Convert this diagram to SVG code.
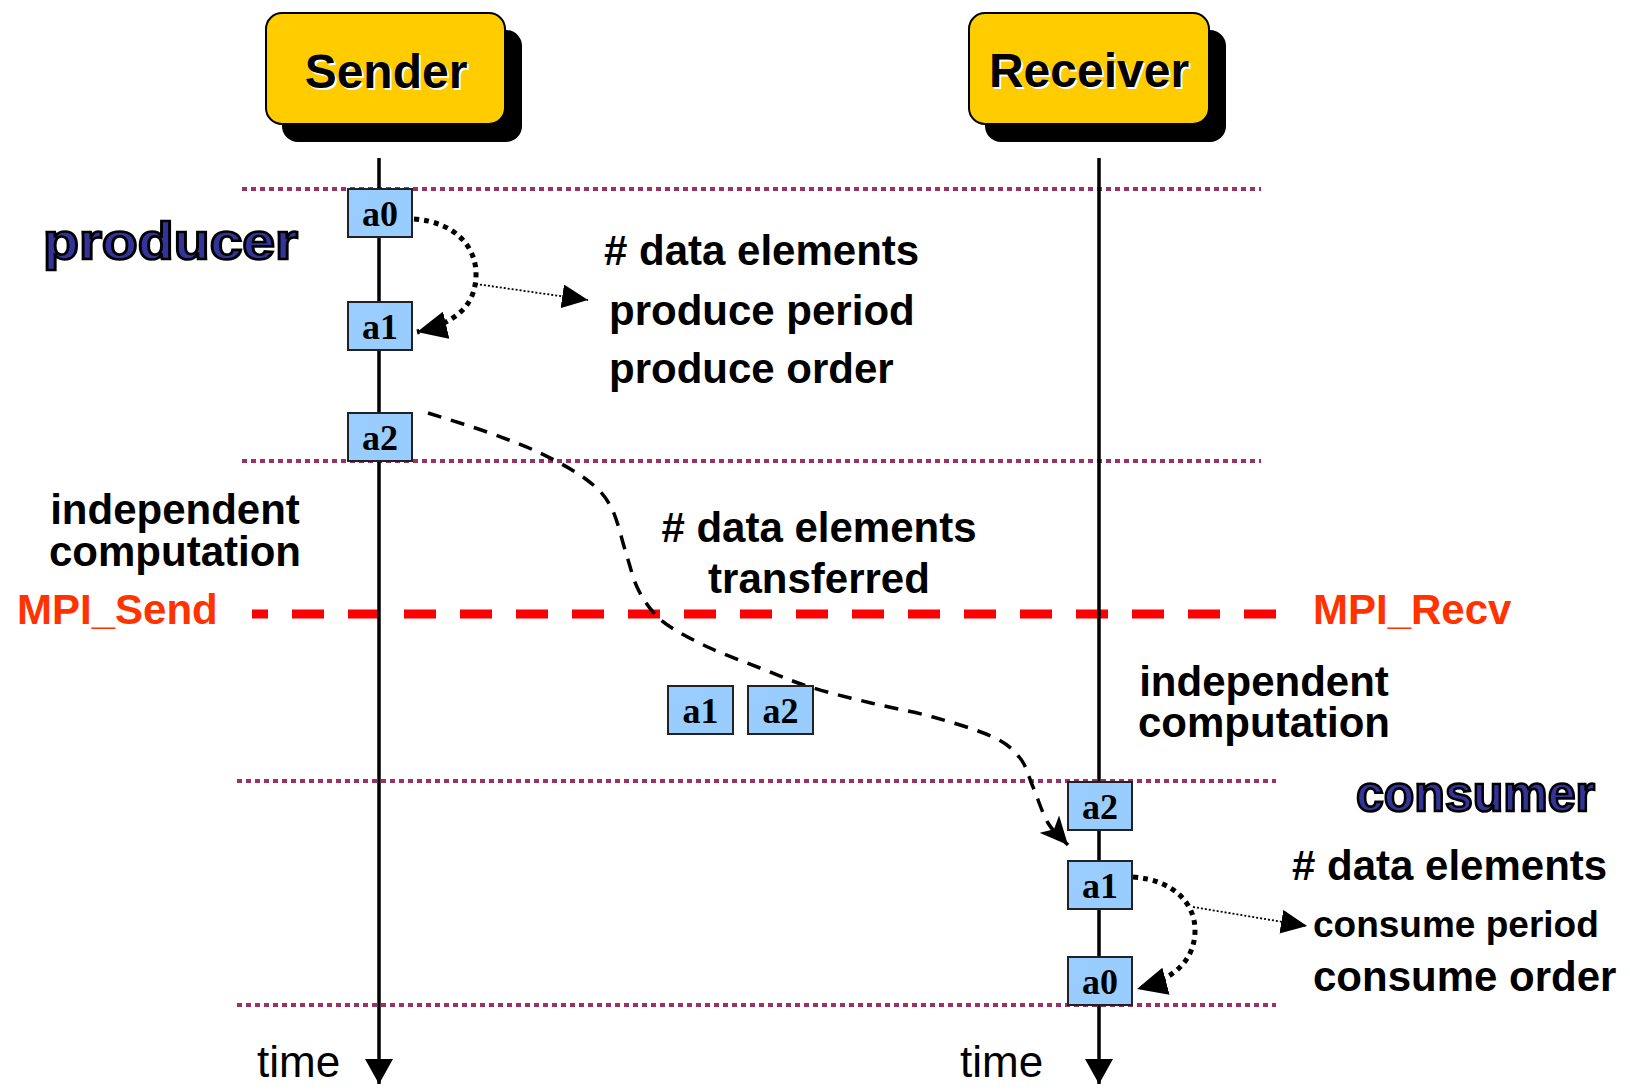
<svg xmlns="http://www.w3.org/2000/svg" width="1630" height="1091" viewBox="0 0 1630 1091">
<defs>
<style>
.hdr-shadow{fill:#000}
.hdr{fill:#FFCC00;stroke:#000;stroke-width:2}
.hdr-text{font-family:"Liberation Sans",Arial,sans-serif;font-weight:bold;font-size:48px;text-anchor:middle;fill:#000}
.hdr-text-hl{font-family:"Liberation Sans",Arial,sans-serif;font-weight:bold;font-size:48px;text-anchor:middle;fill:#fff}
.box{fill:#99CCFF;stroke:#222;stroke-width:2}
.box-text{font-family:"Liberation Serif","Times New Roman",serif;font-weight:bold;font-size:36px;text-anchor:middle;fill:#000}
.phase{stroke:#993366;stroke-width:4;stroke-dasharray:5 4;fill:none}
.mpi{stroke:#FF0000;stroke-width:9;stroke-dasharray:32 24;stroke-dashoffset:16;fill:none}
.lifeline{stroke:#000;stroke-width:3.5;fill:none}
.label{font-family:"Liberation Sans",Arial,sans-serif;font-weight:bold;font-size:42px;fill:#000}
.role{font-family:"Liberation Sans",Arial,sans-serif;font-weight:bold;font-size:52px;fill:#333399;stroke:#000;stroke-width:2.6}
.mpitext{font-family:"Liberation Sans",Arial,sans-serif;font-weight:bold;font-size:42px;fill:#FF3300}
.time{font-family:"Liberation Sans",Arial,sans-serif;font-size:44px;fill:#000}
.order{stroke:#000;stroke-width:5;stroke-dasharray:5 5;fill:none}
.hint{stroke:#000;stroke-width:1.8;stroke-dasharray:2 2;fill:none}
.transfer{stroke:#000;stroke-width:3.5;stroke-dasharray:14 10;fill:none}
</style>
<marker id="arrowL" markerUnits="userSpaceOnUse" markerWidth="30" markerHeight="28" refX="30" refY="14" orient="auto" viewBox="0 0 30 28"><path d="M0,0 L30,14 L0,28 z" fill="#000"/></marker>
<marker id="arrowN" markerUnits="userSpaceOnUse" markerWidth="28" markerHeight="26" refX="28" refY="13" orient="auto" viewBox="0 0 28 26"><path d="M0,0 L28,13 L0,26 L7,13 z" fill="#000"/></marker>
<marker id="arrowM" markerUnits="userSpaceOnUse" markerWidth="26" markerHeight="24" refX="26" refY="12" orient="auto" viewBox="0 0 26 24"><path d="M0,0 L26,12 L0,24 z" fill="#000"/></marker>
<marker id="arrowT" markerUnits="userSpaceOnUse" markerWidth="25" markerHeight="28" refX="25" refY="14" orient="auto" viewBox="0 0 25 28"><path d="M0,0 L25,14 L0,28 z" fill="#000"/></marker>
</defs>

<g id="phases">
<line class="phase" x1="242" y1="189" x2="1261" y2="189"/>
<line class="phase" x1="242" y1="461" x2="1261" y2="461"/>
<line class="phase" x1="237" y1="781" x2="1276" y2="781"/>
<line class="phase" x1="237" y1="1005" x2="1276" y2="1005"/>
<line class="mpi" x1="252" y1="614" x2="1276" y2="614"/>
</g>

<g id="connectors">
<line class="lifeline" x1="379" y1="158" x2="379" y2="1084" marker-end="url(#arrowT)"/>
<line class="lifeline" x1="1099" y1="158" x2="1099" y2="1084" marker-end="url(#arrowT)"/>
<path class="order" d="M414,219 C456,222 477,248 476,276 C475,303 460,322 417,332" marker-end="url(#arrowL)"/>
<path class="hint" d="M476,284 L588,300" marker-end="url(#arrowM)"/>
<path class="transfer" d="M428,413 C437.8,416.2 468.3,425.3 487,432 C505.7,438.7 523.3,445 540,453 C556.7,461 575.2,471 587,480 C598.8,489 604.5,494.8 611,507 C617.5,519.2 621.7,539.7 626,553 C630.3,566.3 632.5,577.2 637,587 C641.5,596.8 647.2,605.2 653,612 C658.8,618.8 662.5,622 672,628 C681.5,634 695.3,641.3 710,648 C724.7,654.7 743.3,661.5 760,668 C776.7,674.5 791.5,681.2 810,687 C828.5,692.8 850.5,698 871,703 C891.5,708 912.7,711.3 933,717 C953.3,722.7 978.5,730.2 993,737 C1007.5,743.8 1013.3,749.7 1020,758 C1026.7,766.3 1028.3,776.2 1033,787 C1037.7,797.8 1042.2,813.3 1048,823 C1053.8,832.7 1064.7,841.3 1068,845" marker-end="url(#arrowN)"/>
<path class="order" d="M1133,877 C1175,880 1196,905 1195,932 C1194,958 1178,978 1137,989" marker-end="url(#arrowL)"/>
<path class="hint" d="M1193,907 L1307,926" marker-end="url(#arrowM)"/>
</g>

<g id="sender">
<rect class="hdr-shadow" x="282" y="30" width="240" height="112" rx="16"/>
<rect class="hdr" x="266" y="13" width="239" height="111" rx="16"/>
<text class="hdr-text-hl" x="388" y="90">Sender</text>
<text class="hdr-text" x="386" y="88">Sender</text>
</g>

<g id="receiver">
<rect class="hdr-shadow" x="985" y="30" width="241" height="112" rx="16"/>
<rect class="hdr" x="969" y="13" width="240" height="111" rx="16"/>
<text class="hdr-text-hl" x="1091" y="89">Receiver</text>
<text class="hdr-text" x="1089" y="87">Receiver</text>
</g>

<g id="send-a0"><rect class="box" x="348" y="189" width="64" height="48"/><text class="box-text" x="380" y="226">a0</text></g>
<g id="send-a1"><rect class="box" x="348" y="302" width="64" height="48"/><text class="box-text" x="380" y="339">a1</text></g>
<g id="send-a2"><rect class="box" x="348" y="413" width="64" height="48"/><text class="box-text" x="380" y="450">a2</text></g>
<g id="transit-a1"><rect class="box" x="668" y="686" width="65" height="48"/><text class="box-text" x="700.5" y="723">a1</text></g>
<g id="transit-a2"><rect class="box" x="748" y="686" width="65" height="48"/><text class="box-text" x="780.5" y="723">a2</text></g>
<g id="recv-a2"><rect class="box" x="1068" y="782" width="64" height="48"/><text class="box-text" x="1100" y="819">a2</text></g>
<g id="recv-a1"><rect class="box" x="1068" y="861" width="64" height="48"/><text class="box-text" x="1100" y="898">a1</text></g>
<g id="recv-a0"><rect class="box" x="1068" y="957" width="64" height="48"/><text class="box-text" x="1100" y="994">a0</text></g>

<g id="labels">
<text class="role" x="43" y="259" textLength="255" lengthAdjust="spacingAndGlyphs">producer</text>
<text class="role" x="1356" y="811" textLength="239" lengthAdjust="spacingAndGlyphs">consumer</text>
<text class="label" x="175" y="524" text-anchor="middle">independent</text>
<text class="label" x="175" y="566" text-anchor="middle">computation</text>
<text class="label" x="1264" y="696" text-anchor="middle">independent</text>
<text class="label" x="1264" y="737" text-anchor="middle">computation</text>
<text class="label" x="604" y="265"># data elements</text>
<text class="label" x="609" y="325">produce period</text>
<text class="label" x="609" y="383">produce order</text>
<text class="label" x="819" y="542" text-anchor="middle"># data elements</text>
<text class="label" x="819" y="593" text-anchor="middle">transferred</text>
<text class="label" x="1292" y="880"># data elements</text>
<text class="label" x="1313" y="937" style="font-size:37px">consume period</text>
<text class="label" x="1313" y="991">consume order</text>
<text class="mpitext" x="17" y="624">MPI_Send</text>
<text class="mpitext" x="1313" y="624">MPI_Recv</text>
<text class="time" x="257" y="1077">time</text>
<text class="time" x="960" y="1077">time</text>
</g>
</svg>
